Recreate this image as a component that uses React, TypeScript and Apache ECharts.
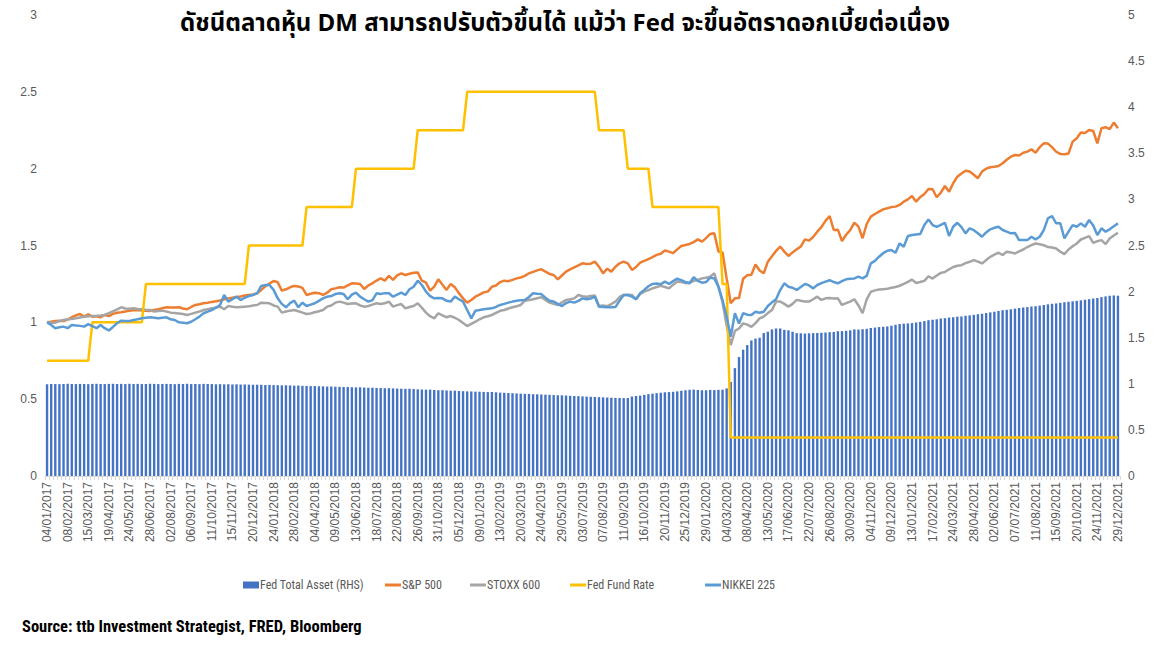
import React, { useEffect, useRef } from "react";
import * as echarts from "echarts";

const dates2017 = ["04/01/2017","11/01/2017","18/01/2017","25/01/2017","01/02/2017","08/02/2017","15/02/2017","22/02/2017","01/03/2017","08/03/2017","15/03/2017","22/03/2017","29/03/2017","05/04/2017","12/04/2017","19/04/2017","26/04/2017","03/05/2017","10/05/2017","17/05/2017","24/05/2017","31/05/2017","07/06/2017","14/06/2017","21/06/2017","28/06/2017","05/07/2017","12/07/2017","19/07/2017","26/07/2017","02/08/2017","09/08/2017","16/08/2017","23/08/2017","30/08/2017","06/09/2017","13/09/2017","20/09/2017","27/09/2017","04/10/2017","11/10/2017","18/10/2017","25/10/2017","01/11/2017","08/11/2017","15/11/2017","22/11/2017","29/11/2017","06/12/2017","13/12/2017","20/12/2017","27/12/2017"];
const dates2018 = ["03/01/2018","10/01/2018","17/01/2018","24/01/2018","31/01/2018","07/02/2018","14/02/2018","21/02/2018","28/02/2018","07/03/2018","14/03/2018","21/03/2018","28/03/2018","04/04/2018","11/04/2018","18/04/2018","25/04/2018","02/05/2018","09/05/2018","16/05/2018","23/05/2018","30/05/2018","06/06/2018","13/06/2018","20/06/2018","27/06/2018","04/07/2018","11/07/2018","18/07/2018","25/07/2018","01/08/2018","08/08/2018","15/08/2018","22/08/2018","29/08/2018","05/09/2018","12/09/2018","19/09/2018","26/09/2018","03/10/2018","10/10/2018","17/10/2018","24/10/2018","31/10/2018","07/11/2018","14/11/2018","21/11/2018","28/11/2018","05/12/2018","12/12/2018","19/12/2018","26/12/2018"];
const dates2019 = ["02/01/2019","09/01/2019","16/01/2019","23/01/2019","30/01/2019","06/02/2019","13/02/2019","20/02/2019","27/02/2019","06/03/2019","13/03/2019","20/03/2019","27/03/2019","03/04/2019","10/04/2019","17/04/2019","24/04/2019","01/05/2019","08/05/2019","15/05/2019","22/05/2019","29/05/2019","05/06/2019","12/06/2019","19/06/2019","26/06/2019","03/07/2019","10/07/2019","17/07/2019","24/07/2019","31/07/2019","07/08/2019","14/08/2019","21/08/2019","28/08/2019","04/09/2019","11/09/2019","18/09/2019","25/09/2019","02/10/2019","09/10/2019","16/10/2019","23/10/2019","30/10/2019","06/11/2019","13/11/2019","20/11/2019","27/11/2019","04/12/2019","11/12/2019","18/12/2019","25/12/2019"];
const dates2020 = ["01/01/2020","08/01/2020","15/01/2020","22/01/2020","29/01/2020","05/02/2020","12/02/2020","19/02/2020","26/02/2020","04/03/2020","11/03/2020","18/03/2020","25/03/2020","01/04/2020","08/04/2020","15/04/2020","22/04/2020","29/04/2020","06/05/2020","13/05/2020","20/05/2020","27/05/2020","03/06/2020","10/06/2020","17/06/2020","24/06/2020","01/07/2020","08/07/2020","15/07/2020","22/07/2020","29/07/2020","05/08/2020","12/08/2020","19/08/2020","26/08/2020","02/09/2020","09/09/2020","16/09/2020","23/09/2020","30/09/2020","07/10/2020","14/10/2020","21/10/2020","28/10/2020","04/11/2020","11/11/2020","18/11/2020","25/11/2020","02/12/2020","09/12/2020","16/12/2020","23/12/2020","30/12/2020"];
const dates2021 = ["06/01/2021","13/01/2021","20/01/2021","27/01/2021","03/02/2021","10/02/2021","17/02/2021","24/02/2021","03/03/2021","10/03/2021","17/03/2021","24/03/2021","31/03/2021","07/04/2021","14/04/2021","21/04/2021","28/04/2021","05/05/2021","12/05/2021","19/05/2021","26/05/2021","02/06/2021","09/06/2021","16/06/2021","23/06/2021","30/06/2021","07/07/2021","14/07/2021","21/07/2021","28/07/2021","04/08/2021","11/08/2021","18/08/2021","25/08/2021","01/09/2021","08/09/2021","15/09/2021","22/09/2021","29/09/2021","06/10/2021","13/10/2021","20/10/2021","27/10/2021","03/11/2021","10/11/2021","17/11/2021","24/11/2021","01/12/2021","08/12/2021","15/12/2021","22/12/2021","29/12/2021"];
const categories = [...dates2017, ...dates2018, ...dates2019, ...dates2020, ...dates2021];

const fedTotalAsset = [
  0.995,0.998,0.997,0.996,0.999,1.000,0.998,0.997,0.999,0.998,
  0.996,0.999,1.000,0.998,0.997,0.999,1.000,0.998,0.999,0.997,
  1.000,0.998,0.999,0.997,0.998,1.000,0.999,0.997,0.998,0.999,
  0.998,0.996,0.999,0.998,1.000,0.997,0.998,0.996,0.999,0.998,
  0.997,0.995,0.996,0.994,0.995,0.993,0.994,0.992,0.993,0.991,
  0.990,0.991,0.989,0.987,0.988,0.986,0.985,0.983,0.984,0.982,
  0.980,0.981,0.978,0.977,0.975,0.976,0.973,0.972,0.970,0.971,
  0.968,0.967,0.965,0.966,0.963,0.961,0.962,0.959,0.957,0.958,
  0.955,0.954,0.952,0.953,0.950,0.948,0.947,0.945,0.946,0.943,
  0.940,0.938,0.936,0.937,0.933,0.930,0.931,0.928,0.925,0.926,
  0.922,0.920,0.918,0.917,0.915,0.914,0.912,0.910,0.911,0.908,
  0.904,0.902,0.900,0.898,0.895,0.893,0.891,0.890,0.887,0.886,
  0.884,0.882,0.880,0.878,0.876,0.875,0.873,0.870,0.868,0.866,
  0.863,0.861,0.859,0.857,0.855,0.853,0.851,0.849,0.847,0.846,
  0.845,0.846,0.862,0.868,0.872,0.880,0.888,0.893,0.898,0.903,
  0.908,0.910,0.913,0.918,0.925,0.930,0.935,0.937,0.933,0.930,
  0.930,0.934,0.932,0.935,0.936,0.950,1.020,1.170,1.290,1.370,
  1.420,1.470,1.490,1.500,1.550,1.565,1.590,1.600,1.600,1.585,
  1.580,1.565,1.550,1.548,1.545,1.547,1.550,1.551,1.553,1.556,
  1.560,1.562,1.570,1.572,1.575,1.580,1.590,1.588,1.592,1.596,
  1.605,1.610,1.615,1.618,1.622,1.630,1.640,1.648,1.652,1.655,
  1.658,1.665,1.672,1.680,1.690,1.695,1.700,1.708,1.712,1.718,
  1.722,1.728,1.730,1.738,1.742,1.748,1.755,1.760,1.768,1.775,
  1.782,1.790,1.798,1.802,1.808,1.815,1.822,1.828,1.832,1.838,
  1.842,1.848,1.855,1.862,1.868,1.872,1.878,1.885,1.890,1.895,
  1.900,1.905,1.912,1.918,1.925,1.930,1.940,1.948,1.955,1.958,
  1.955
];

const sp500 = [
  1.000,1.004,1.008,1.010,1.009,1.018,1.033,1.045,1.054,1.037,
  1.052,1.037,1.040,1.033,1.048,1.041,1.055,1.062,1.065,1.070,
  1.076,1.078,1.080,1.077,1.076,1.074,1.080,1.085,1.092,1.098,
  1.097,1.096,1.098,1.090,1.085,1.100,1.113,1.118,1.124,1.128,
  1.133,1.137,1.142,1.150,1.155,1.160,1.165,1.168,1.175,1.178,
  1.182,1.189,1.211,1.235,1.252,1.269,1.261,1.206,1.215,1.228,
  1.237,1.233,1.224,1.178,1.186,1.193,1.190,1.178,1.193,1.215,
  1.221,1.228,1.226,1.240,1.254,1.252,1.250,1.217,1.240,1.254,
  1.272,1.286,1.271,1.302,1.276,1.306,1.319,1.308,1.316,1.323,
  1.325,1.271,1.258,1.206,1.232,1.280,1.245,1.211,1.250,1.228,
  1.190,1.156,1.128,1.145,1.167,1.180,1.195,1.200,1.232,1.240,
  1.262,1.271,1.268,1.276,1.286,1.292,1.302,1.319,1.328,1.338,
  1.345,1.330,1.315,1.308,1.280,1.305,1.330,1.345,1.358,1.370,
  1.384,1.380,1.382,1.395,1.362,1.319,1.349,1.330,1.362,1.384,
  1.395,1.384,1.341,1.360,1.389,1.400,1.412,1.424,1.439,1.446,
  1.467,1.460,1.450,1.475,1.497,1.503,1.510,1.522,1.540,1.525,
  1.548,1.575,1.580,1.461,1.455,1.285,1.124,1.156,1.158,1.284,
  1.306,1.310,1.376,1.337,1.319,1.395,1.430,1.465,1.493,1.460,
  1.432,1.455,1.475,1.493,1.540,1.532,1.555,1.590,1.620,1.660,
  1.692,1.601,1.603,1.529,1.570,1.600,1.649,1.623,1.547,1.640,
  1.688,1.705,1.720,1.735,1.742,1.750,1.753,1.764,1.785,1.800,
  1.822,1.785,1.815,1.835,1.868,1.866,1.814,1.844,1.887,1.850,
  1.905,1.948,1.968,1.987,1.981,1.960,1.938,1.981,2.000,2.009,
  2.012,2.017,2.035,2.058,2.078,2.089,2.086,2.104,2.111,2.126,
  2.104,2.140,2.165,2.163,2.140,2.110,2.096,2.094,2.098,2.176,
  2.198,2.235,2.232,2.252,2.245,2.165,2.263,2.270,2.257,2.300,
  2.263
];

const stoxx600 = [
  1.000,0.998,0.998,1.008,1.015,1.020,1.022,1.026,1.032,1.037,
  1.040,1.042,1.043,1.045,1.048,1.060,1.072,1.085,1.098,1.090,
  1.088,1.091,1.087,1.085,1.082,1.080,1.070,1.074,1.076,1.070,
  1.063,1.060,1.057,1.054,1.048,1.055,1.063,1.070,1.080,1.086,
  1.091,1.097,1.102,1.085,1.106,1.102,1.098,1.100,1.102,1.104,
  1.110,1.113,1.128,1.126,1.124,1.110,1.102,1.063,1.070,1.076,
  1.080,1.072,1.063,1.054,1.058,1.066,1.072,1.080,1.102,1.110,
  1.128,1.135,1.128,1.119,1.122,1.124,1.110,1.102,1.106,1.115,
  1.124,1.120,1.124,1.135,1.102,1.112,1.119,1.091,1.100,1.106,
  1.124,1.095,1.063,1.040,1.026,1.059,1.045,1.033,1.041,1.030,
  1.015,0.995,0.976,0.990,1.004,1.020,1.033,1.040,1.048,1.062,
  1.075,1.080,1.090,1.098,1.105,1.113,1.141,1.145,1.150,1.157,
  1.163,1.145,1.128,1.120,1.113,1.130,1.145,1.150,1.156,1.178,
  1.170,1.167,1.172,1.175,1.106,1.110,1.105,1.119,1.135,1.165,
  1.178,1.180,1.178,1.150,1.185,1.200,1.210,1.221,1.230,1.237,
  1.230,1.221,1.245,1.265,1.262,1.255,1.258,1.270,1.276,1.286,
  1.290,1.297,1.319,1.232,1.130,0.980,0.852,0.945,0.960,0.993,
  0.985,0.971,0.995,1.026,1.037,1.060,1.080,1.135,1.135,1.120,
  1.102,1.120,1.146,1.140,1.135,1.135,1.150,1.167,1.146,1.156,
  1.158,1.155,1.156,1.113,1.125,1.135,1.150,1.110,1.059,1.150,
  1.199,1.208,1.213,1.216,1.219,1.225,1.230,1.238,1.250,1.263,
  1.278,1.256,1.262,1.270,1.300,1.285,1.305,1.322,1.328,1.345,
  1.360,1.368,1.372,1.385,1.394,1.405,1.395,1.383,1.405,1.426,
  1.440,1.453,1.438,1.459,1.455,1.448,1.462,1.474,1.490,1.502,
  1.513,1.508,1.502,1.490,1.487,1.481,1.460,1.444,1.474,1.495,
  1.513,1.539,1.550,1.561,1.517,1.528,1.535,1.509,1.546,1.565,
  1.583
];

const fedFundRate = [
  0.75,0.75,0.75,0.75,0.75,0.75,0.75,0.75,0.75,0.75,
  0.75,1.00,1.00,1.00,1.00,1.00,1.00,1.00,1.00,1.00,
  1.00,1.00,1.00,1.00,1.25,1.25,1.25,1.25,1.25,1.25,
  1.25,1.25,1.25,1.25,1.25,1.25,1.25,1.25,1.25,1.25,
  1.25,1.25,1.25,1.25,1.25,1.25,1.25,1.25,1.25,1.50,
  1.50,1.50,1.50,1.50,1.50,1.50,1.50,1.50,1.50,1.50,
  1.50,1.50,1.50,1.75,1.75,1.75,1.75,1.75,1.75,1.75,
  1.75,1.75,1.75,1.75,1.75,2.00,2.00,2.00,2.00,2.00,
  2.00,2.00,2.00,2.00,2.00,2.00,2.00,2.00,2.00,2.00,
  2.25,2.25,2.25,2.25,2.25,2.25,2.25,2.25,2.25,2.25,
  2.25,2.25,2.50,2.50,2.50,2.50,2.50,2.50,2.50,2.50,
  2.50,2.50,2.50,2.50,2.50,2.50,2.50,2.50,2.50,2.50,
  2.50,2.50,2.50,2.50,2.50,2.50,2.50,2.50,2.50,2.50,
  2.50,2.50,2.50,2.50,2.25,2.25,2.25,2.25,2.25,2.25,
  2.25,2.00,2.00,2.00,2.00,2.00,2.00,1.75,1.75,1.75,
  1.75,1.75,1.75,1.75,1.75,1.75,1.75,1.75,1.75,1.75,
  1.75,1.75,1.75,1.75,1.25,1.25,0.25,0.25,0.25,0.25,
  0.25,0.25,0.25,0.25,0.25,0.25,0.25,0.25,0.25,0.25,
  0.25,0.25,0.25,0.25,0.25,0.25,0.25,0.25,0.25,0.25,
  0.25,0.25,0.25,0.25,0.25,0.25,0.25,0.25,0.25,0.25,
  0.25,0.25,0.25,0.25,0.25,0.25,0.25,0.25,0.25,0.25,
  0.25,0.25,0.25,0.25,0.25,0.25,0.25,0.25,0.25,0.25,
  0.25,0.25,0.25,0.25,0.25,0.25,0.25,0.25,0.25,0.25,
  0.25,0.25,0.25,0.25,0.25,0.25,0.25,0.25,0.25,0.25,
  0.25,0.25,0.25,0.25,0.25,0.25,0.25,0.25,0.25,0.25,
  0.25,0.25,0.25,0.25,0.25,0.25,0.25,0.25,0.25,0.25,
  0.25
];

const nikkei225 = [
  1.000,0.983,0.962,0.968,0.972,0.962,0.983,0.980,0.977,0.972,
  0.988,0.975,0.962,0.983,0.962,0.947,0.970,0.994,1.011,1.008,
  1.009,1.015,1.020,1.026,1.030,1.033,1.030,1.026,1.030,1.033,
  1.020,1.015,1.000,0.998,0.994,1.004,1.020,1.037,1.059,1.070,
  1.080,1.095,1.113,1.178,1.135,1.150,1.167,1.145,1.160,1.171,
  1.178,1.189,1.237,1.243,1.243,1.211,1.156,1.120,1.098,1.125,
  1.141,1.098,1.128,1.106,1.115,1.124,1.140,1.156,1.167,1.171,
  1.184,1.189,1.184,1.150,1.180,1.193,1.167,1.150,1.135,1.145,
  1.189,1.185,1.190,1.189,1.167,1.180,1.193,1.178,1.215,1.232,
  1.271,1.243,1.200,1.171,1.156,1.158,1.156,1.140,1.135,1.167,
  1.150,1.135,1.080,1.026,1.076,1.080,1.085,1.088,1.091,1.100,
  1.113,1.120,1.128,1.135,1.141,1.143,1.145,1.165,1.189,1.186,
  1.184,1.160,1.141,1.135,1.120,1.106,1.125,1.135,1.128,1.140,
  1.156,1.150,1.155,1.167,1.102,1.100,1.098,1.098,1.099,1.141,
  1.178,1.178,1.167,1.150,1.190,1.211,1.235,1.250,1.252,1.248,
  1.265,1.250,1.268,1.284,1.275,1.262,1.254,1.293,1.270,1.258,
  1.262,1.291,1.285,1.232,1.145,1.037,0.907,1.059,0.993,1.059,
  1.050,1.048,1.069,1.062,1.069,1.106,1.130,1.150,1.210,1.254,
  1.232,1.225,1.211,1.230,1.250,1.240,1.221,1.243,1.255,1.265,
  1.274,1.262,1.254,1.268,1.280,1.283,1.286,1.297,1.286,1.302,
  1.384,1.400,1.427,1.450,1.466,1.470,1.453,1.514,1.492,1.562,
  1.568,1.572,1.575,1.633,1.670,1.633,1.622,1.635,1.648,1.562,
  1.622,1.648,1.620,1.579,1.612,1.600,1.580,1.557,1.585,1.605,
  1.615,1.622,1.601,1.590,1.579,1.582,1.535,1.535,1.535,1.557,
  1.540,1.557,1.600,1.677,1.692,1.644,1.645,1.546,1.590,1.633,
  1.622,1.644,1.622,1.666,1.630,1.568,1.612,1.590,1.605,1.625,
  1.644
];

const leftTicks = { min: 0, max: 3, interval: 0.5 };
const rightTicks = { min: 0, max: 5, interval: 0.5 };

const seriesNames = ["Fed Total Asset (RHS)", "S&P 500", "STOXX 600", "Fed Fund Rate", "NIKKEI 225"];
const seriesColors = ["#4472C4", "#ED7D31", "#A5A5A5", "#FFC000", "#5B9BD5"];
const legendLefts = [238, 380, 465, 565, 700];

const titleText = "ดัชนีตลาดหุ้น DM สามารถปรับตัวขึ้นได้ แม้ว่า Fed จะขึ้นอัตราดอกเบี้ยต่อเนื่อง";
const sourceText = "Source: ttb Investment Strategist, FRED, Bloomberg";

const NARROW = "'Liberation Sans Narrow', 'Arial Narrow', 'Roboto Condensed', 'Liberation Sans', sans-serif";
const AXISFONT = "'Liberation Sans', Arial, sans-serif";
const LINE_ICON = "path://M0,0 L16,0 L16,3 L0,3 Z";

export default function App() {
  const ref = useRef<HTMLDivElement>(null);
  useEffect(() => {
    if (!ref.current) return;
    const chart = echarts.init(ref.current, undefined, { renderer: "svg" });
    const lineBase = { type: "line", symbol: "none", yAxisIndex: 0, smooth: false };
    const legends = seriesNames.map((name, i) => ({
      top: 574,
      left: legendLefts[i],
      itemGap: 0,
      itemWidth: 16,
      itemHeight: i === 0 ? 7 : 3,
      textStyle: { fontSize: 12, color: "#595959", fontFamily: NARROW, padding: [0, 0, 0, -4] },
      data: [{ name, icon: i === 0 ? "rect" : LINE_ICON }],
    }));
    chart.setOption({
      animation: false,
      backgroundColor: "#ffffff",
      title: {
        text: titleText,
        left: 560,
        top: 7,
        textAlign: "center",
        textStyle: { fontSize: 24, fontWeight: "bold", color: "#000000", fontFamily: "'Noto Sans Thai', 'Noto Sans', 'DejaVu Sans', sans-serif" },
      },
      legend: legends,
      graphic: [
        {
          type: "text",
          left: 22,
          top: 618,
          style: { text: sourceText, fontSize: 16.5, fontWeight: "bold", fill: "#000000", fontFamily: NARROW },
        },
      ],
      grid: { left: 45, right: 45, top: 15, bottom: 170 },
      xAxis: {
        type: "category",
        data: categories,
        boundaryGap: true,
        axisLine: { lineStyle: { color: "#D9D9D9" } },
        axisTick: { show: true, interval: 0, length: 4, lineStyle: { color: "#D9D9D9" } },
        axisLabel: { interval: 4, rotate: 90, fontSize: 12, color: "#595959", fontFamily: AXISFONT, margin: 6 },
      },
      yAxis: [
        {
          type: "value",
          ...leftTicks,
          splitLine: { show: false },
          axisLine: { show: false },
          axisTick: { show: false },
          axisLabel: { fontSize: 12, color: "#595959", fontFamily: AXISFONT },
        },
        {
          type: "value",
          position: "right",
          ...rightTicks,
          splitLine: { show: false },
          axisLine: { show: false },
          axisTick: { show: false },
          axisLabel: { fontSize: 12, color: "#595959", fontFamily: AXISFONT },
        },
      ],
      series: [
        {
          name: seriesNames[0],
          type: "bar",
          yAxisIndex: 1,
          data: fedTotalAsset,
          barCategoryGap: "42%",
          itemStyle: { color: seriesColors[0] },
        },
        { ...lineBase, name: seriesNames[1], data: sp500, lineStyle: { color: seriesColors[1], width: 2.5 }, itemStyle: { color: seriesColors[1] } },
        { ...lineBase, name: seriesNames[2], data: stoxx600, lineStyle: { color: seriesColors[2], width: 2.5 }, itemStyle: { color: seriesColors[2] } },
        { ...lineBase, name: seriesNames[3], data: fedFundRate, lineStyle: { color: seriesColors[3], width: 2.5 }, itemStyle: { color: seriesColors[3] } },
        { ...lineBase, name: seriesNames[4], data: nikkei225, lineStyle: { color: seriesColors[4], width: 2.5 }, itemStyle: { color: seriesColors[4] } },
      ],
    });
    return () => chart.dispose();
  }, []);
  return <div ref={ref} style={{ position: "absolute", left: 0, top: 0, width: 1165, height: 646 }} />;
}
